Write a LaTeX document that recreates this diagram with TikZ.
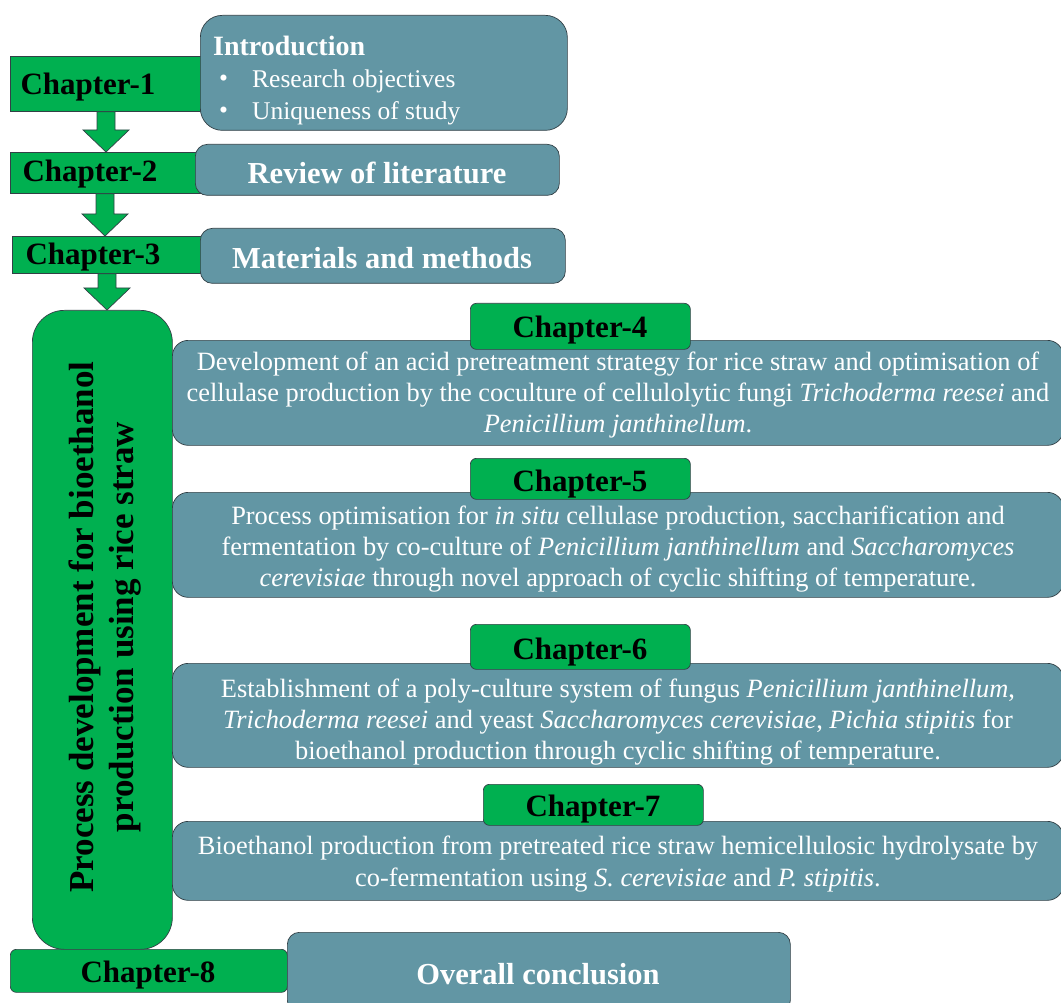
\documentclass[tikz,border=0pt]{standalone}
\usepackage{fontspec}
\setmainfont{Liberation Serif}
\usetikzlibrary{calc}
\definecolor{chgreen}{RGB}{0,176,80}
\definecolor{slate}{RGB}{98,150,164}
\definecolor{edge}{RGB}{50,64,70}

% block arrow pointing down from one node to the next
\newcommand\flowdown[3]{% #1 upper node, #2 lower node, #3 shaft centre x
  \draw[blockarrow] let \p1=(#1.south), \p2=(#2.north) in
    (#3pt-9pt,\y1) -- (#3pt-9pt,\y2+22pt) -- (#3pt-23pt,\y2+22pt) -- (#3pt,\y2)
    -- (#3pt+23pt,\y2+22pt) -- (#3pt+9pt,\y2+22pt) -- (#3pt+9pt,\y1) -- cycle;}

\begin{document}
\begin{tikzpicture}[x=1pt,y=-1pt,
  greenrect/.style={draw=edge, line width=0.7pt, fill=chgreen, inner sep=0pt, anchor=north west},
  slatebox/.style={draw=edge, line width=0.7pt, fill=slate, inner sep=0pt, anchor=north west},
  blockarrow/.style={draw=edge, line width=0.7pt, fill=chgreen},
  chaplabel/.style={inner sep=0pt, font=\fontsize{31}{36}\selectfont\bfseries, text=black},
  heading/.style={inner sep=0pt, font=\fontsize{30.5}{36}\selectfont\bfseries, text=white},
  bodytext/.style={inner sep=0pt, align=center, text=white, font=\fontsize{26.4}{31.3}\selectfont},
  bullettext/.style={inner sep=0pt, anchor=west, text=white, font=\fontsize{25.5}{31.3}\selectfont},
  titletext/.style={inner sep=0pt, align=center, rotate=90, text=black, font=\fontsize{35}{40}\selectfont\bfseries}]
\useasboundingbox (0,0) rectangle (1061,1003);

% chapters 1-3
\node[greenrect, minimum width=195, minimum height=55] (c1) at (10,56) {};
\node[slatebox, rounded corners=22, minimum width=367, minimum height=115] (intro) at (200,15) {};
\node[chaplabel] (c1t) at (88,87) {Chapter-1};
\node[heading, anchor=west, font=\fontsize{28}{34}\selectfont\bfseries] (introt) at (213,46) {Introduction};
\node[bullettext] (b1) at (219,81) {\textbullet};
\node[bullettext] (b1t) at (252,81) {Research objectives};
\node[bullettext] (b2) at (219,113) {\textbullet};
\node[bullettext] (b2t) at (252,113) {Uniqueness of study};

\node[greenrect, minimum width=190, minimum height=41] (c2) at (10,152) {};
\node[slatebox, rounded corners=12, minimum width=364, minimum height=51] (rev) at (195,144) {};
\node[chaplabel] (c2t) at (90,174) {Chapter-2};
\node[heading] (revt) at (377,173) {Review of literature};

\node[greenrect, minimum width=192, minimum height=37] (c3) at (12,236) {};
\node[slatebox, rounded corners=12, minimum width=365, minimum height=55] (mat) at (200,228) {};
\node[chaplabel] (c3t) at (93,257) {Chapter-3};
\node[heading] (matt) at (382,258) {Materials and methods};

% research chapters
\node[greenrect, rounded corners=32, minimum width=140, minimum height=639] (proc) at (32,310) {};
\node[titletext] (proct) at (105,627) {Process development for bioethanol\\production using rice straw};

\flowdown{c1}{c2}{106}
\flowdown{c2}{c3}{105}
\flowdown{c3}{proc}{107}

\node[slatebox, rounded corners=16, minimum width=891, minimum height=105] (b4) at (172,340) {};
\node[greenrect, rounded corners=6, minimum width=220, minimum height=46] (c4) at (470,303) {};
\node[chaplabel] (c4t) at (580,330) {Chapter-4};
\node[bodytext] (b4t) at (618,395) {Development of an acid pretreatment strategy for rice straw and optimisation of\\
cellulase production by the coculture of cellulolytic fungi \textit{Trichoderma reesei} and\\
\textit{Penicillium janthinellum}.};

\node[slatebox, rounded corners=16, minimum width=891, minimum height=105] (b5) at (172,492) {};
\node[greenrect, rounded corners=6, minimum width=220, minimum height=41] (c5) at (470,458) {};
\node[chaplabel] (c5t) at (580,484) {Chapter-5};
\node[bodytext] (b5t) at (618,549) {Process optimisation for \textit{in situ} cellulase production, saccharification and\\
fermentation by co-culture of \textit{Penicillium janthinellum} and \textit{Saccharomyces}\\
\textit{cerevisiae} through novel approach of cyclic shifting of temperature.};

\node[slatebox, rounded corners=16, minimum width=891, minimum height=104] (b6) at (172,663) {};
\node[greenrect, rounded corners=6, minimum width=220, minimum height=45] (c6) at (470,624) {};
\node[chaplabel] (c6t) at (580,652) {Chapter-6};
\node[bodytext] (b6t) at (618,722) {Establishment of a poly-culture system of fungus \textit{Penicillium janthinellum},\\
\textit{Trichoderma reesei} and yeast \textit{Saccharomyces cerevisiae}, \textit{Pichia stipitis} for\\
bioethanol production through cyclic shifting of temperature.};

\node[slatebox, rounded corners=16, minimum width=891, minimum height=79] (b7) at (172,821) {};
\node[greenrect, rounded corners=6, minimum width=220, minimum height=41] (c7) at (483,784) {};
\node[chaplabel] (c7t) at (593,809) {Chapter-7};
\node[bodytext] (b7t) at (618,864) {Bioethanol production from pretreated rice straw hemicellulosic hydrolysate by\\
co-fermentation using \textit{S. cerevisiae} and \textit{P. stipitis}.};

% chapter 8
\node[greenrect, rounded corners=6, minimum width=277, minimum height=43] (c8) at (10,949) {};
\node[slatebox, rounded corners=12, minimum width=503, minimum height=80] (conc) at (287,932) {};
\node[chaplabel] (c8t) at (148,975) {Chapter-8};
\node[heading] (conct) at (538,974) {Overall conclusion};
\end{tikzpicture}
\end{document}
